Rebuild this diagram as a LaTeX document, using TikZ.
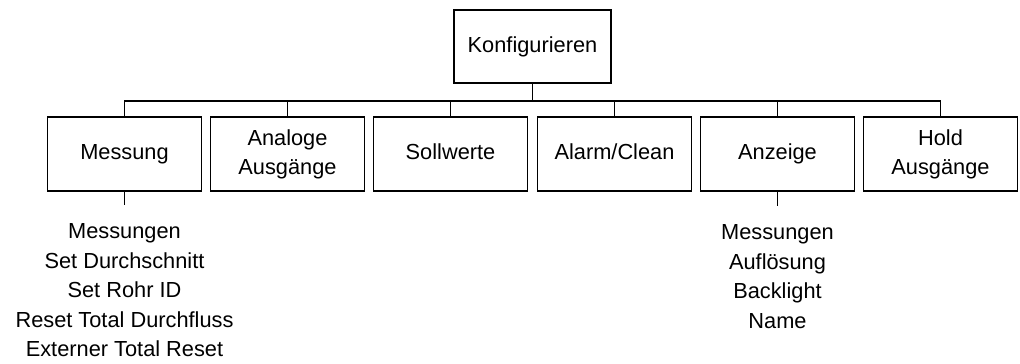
\documentclass[tikz,border=0pt]{standalone}
\usepackage{fontspec}
\setmainfont{Liberation Sans}
\begin{document}
\begin{tikzpicture}[x=0.02cm, y=-0.02cm, line width=1.1pt,
    font=\fontsize{12.4}{16.8}\selectfont,
    box/.style={draw, minimum width=3.08cm, minimum height=1.48cm, align=center, inner sep=2pt},
    liste/.style={align=center, anchor=north, inner xsep=0pt, inner ysep=10pt}]
    \useasboundingbox (0,0) rectangle (1020,363);

    \node[box, minimum width=3.14cm, minimum height=1.46cm] (konf) at (532.5,46.5) {\strut Konfigurieren};
    \coordinate (bus) at (532.5,101);
    \draw (konf.south) -- (bus);

    \foreach \x/\name/\txt in {124.5/mess/Messung, 287.5/analog/{Analoge\\Ausgänge}, 450.5/soll/Sollwerte,
        614.5/alarm/{Alarm/Clean}, 777.5/anz/Anzeige, 940.5/hold/{Hold\\Ausgänge}}
    {
        \node[box] (\name) at (\x,154) {\strut\txt\strut};
        \draw (bus) -| (\name.north);
    }

    \node[liste] (messliste) at (124.5,205) {Messungen\\Set Durchschnitt\\Set Rohr ID\\Reset Total Durchfluss\\Externer Total Reset};
    \draw (mess.south) -- (messliste.north);
    \node[liste] (anzliste) at (777.5,206) {Messungen\\Auflösung\\Backlight\\Name};
    \draw (anz.south) -- (anzliste.north);
\end{tikzpicture}
\end{document}
